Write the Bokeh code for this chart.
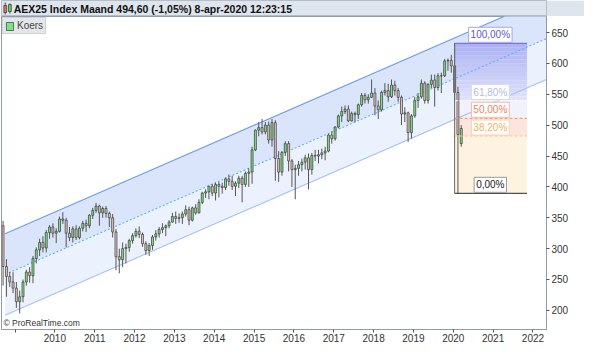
import numpy as np
from bokeh.plotting import figure
from bokeh.models import Range1d, FixedTicker, Label, Legend, LegendItem, ColumnDataSource
from bokeh.layouts import column
from bokeh.embed import file_html
from bokeh.resources import INLINE

# ---------------- data (monthly AEX candles, Oct 2008 .. Apr 2020) ----------------
start_year = 2008
start_month = 10
bar_shift = 0.05   # ProRealTime draws the January bar slightly left of the year tick

opens = [337, 271, 255,
         246, 236, 214, 222, 246, 262, 256, 284, 298, 310, 301, 326,
         335, 325, 328, 348, 346, 325, 318, 332, 318, 333, 341, 337,
         354, 362, 369, 358, 365, 357, 350, 327, 287, 282, 300, 302,
         313, 321, 328, 323, 308, 297, 305, 319, 324, 331, 334, 337,
         343, 352, 349, 350, 356, 363, 346, 366, 358, 375, 390, 392,
         401, 390, 404, 401, 399, 413, 409, 401, 406, 414, 404, 422,
         424, 460, 492, 496, 489, 500, 476, 504, 446, 424, 456, 470,
         442, 428, 430, 436, 440, 447, 428, 451, 450, 452, 455, 458,
         484, 478, 497, 515, 522, 526, 507, 519, 517, 533, 548, 541,
         545, 552, 531, 525, 553, 556, 546, 565, 556, 545, 518, 520,
         488, 515, 540, 546, 568, 540, 566, 573, 561, 580, 580, 604,
         605, 596, 553, 470]
highs = [345, 283, 262,
         262, 246, 232, 250, 266, 270, 288, 302, 316, 320, 330, 338,
         341, 333, 352, 359, 350, 335, 336, 338, 336, 345, 347, 356,
         366, 374, 371, 368, 369, 360, 356, 332, 300, 310, 308, 316,
         325, 333, 336, 326, 312, 309, 322, 330, 335, 341, 339, 346,
         358, 360, 357, 360, 370, 368, 368, 372, 380, 392, 396, 402,
         405, 407, 408, 407, 415, 420, 418, 409, 418, 418, 425, 430,
         465, 493, 505, 510, 505, 506, 510, 508, 458, 458, 474, 474,
         445, 436, 442, 446, 452, 454, 455, 460, 460, 462, 465, 486,
         490, 498, 517, 530, 532, 532, 522, 522, 535, 552, 552, 550,
         574, 560, 540, 556, 568, 567, 574, 572, 560, 548, 529, 522,
         518, 546, 552, 574, 571, 568, 582, 582, 584, 585, 607, 608,
         614, 632.6, 562, 500]
lows = [240, 222, 238,
        228, 204, 195, 213, 240, 245, 244, 276, 288, 294, 294, 316,
        318, 309, 326, 340, 302, 312, 310, 314, 315, 328, 327, 333,
        348, 358, 337, 350, 350, 335, 318, 265, 260, 270, 276, 295,
        308, 318, 317, 303, 290, 288, 298, 313, 318, 325, 320, 333,
        342, 340, 342, 340, 352, 338, 344, 355, 357, 372, 382, 380,
        385, 378, 383, 389, 395, 402, 395, 385, 398, 375, 400, 400,
        405, 458, 482, 485, 485, 470, 465, 410, 408, 418, 450, 425,
        400, 380, 418, 425, 428, 396, 420, 442, 438, 445, 443, 456,
        470, 475, 495, 505, 518, 505, 506, 505, 510, 530, 535, 535,
        544, 516, 510, 522, 548, 538, 544, 548, 538, 500, 505, 473,
        478, 512, 528, 543, 535, 535, 560, 530, 556, 552, 578, 588,
        585, 538, 389.6, 465]
closes = [271, 255, 246,
          236, 214, 222, 246, 262, 256, 284, 298, 310, 301, 326, 335,
          325, 328, 348, 346, 325, 318, 332, 318, 333, 341, 337, 354,
          362, 369, 358, 365, 357, 350, 327, 287, 282, 300, 302, 313,
          321, 328, 323, 308, 297, 305, 319, 324, 331, 334, 337, 343,
          352, 349, 350, 356, 363, 346, 366, 358, 375, 390, 392, 401,
          390, 404, 401, 399, 413, 409, 401, 406, 414, 404, 422, 424,
          460, 492, 496, 489, 500, 476, 504, 446, 424, 456, 470, 442,
          428, 430, 436, 440, 447, 428, 451, 450, 452, 455, 458, 484,
          478, 497, 515, 522, 526, 507, 519, 517, 533, 548, 541, 545,
          552, 531, 525, 553, 556, 546, 565, 556, 545, 518, 520, 488,
          515, 540, 546, 568, 540, 566, 573, 561, 580, 580, 604, 605,
          596, 553, 485, 494.6]

# regression channel
chan_t = [2008.75, 2022.34]
chan_mid = [258.2, 640.1]
chan_half = 66.0

# Fibonacci retracement drawn from the Feb-2020 high to the Mar-2020 low
fib_high = 632.6
fib_low = 389.6
fib_ratios = [1.0, 0.618, 0.5, 0.382, 0.0]
fib_texts = ["100,00%", "61,80%", "50,00%", "38,20%", "0,00%"]
fib_t0 = 2020 + 1 / 12 - bar_shift
fib_t1 = 2021.85
fib_label_t = 2020.93

last_price = 494.6
last_text = "494,60"
title_text = "AEX25 Index Maand 494,60 (-1,05%) 8-apr-2020 12:23:15"
year_ticks = list(range(2009, 2023))
price_ticks = list(range(200, 651, 50))

X0, X1 = 2008.66, 2022.34
Y0, Y1 = 169, 676
FONT = "Liberation Sans"

# ---------------- derived ----------------
n = len(closes)
t = np.array([start_year + (start_month - 1 + i) / 12 - bar_shift for i in range(n)])
o = np.array(opens, float)
h = np.array(highs, float)
l = np.array(lows, float)
c = np.array(closes, float)
up = c >= o

# ---------------- title bar ----------------
pt = figure(width=584, height=16, x_range=Range1d(0, 584), y_range=Range1d(0, 16),
            x_axis_type=None, y_axis_type=None, toolbar_location=None,
            output_backend="svg", min_border=0)
pt.grid.visible = False
pt.background_fill_color = "#dfe5ec"
pt.border_fill_color = "#dfe5ec"
pt.outline_line_color = "#b4bec8"
pt.segment(x0=[4, 9], y0=[2, 3], x1=[4, 9], y1=[14, 13], line_color="#444444", line_width=1)
pt.quad(left=[2.5, 7.5], right=[5.5, 10.5], bottom=[4, 5], top=[11, 12],
        fill_color=["#e07070", "#60d060"], line_color="#444444", line_width=0.8)
pt.add_layout(Label(x=13, y=8, text=title_text, text_baseline="middle",
                    text_font=FONT, text_font_style="bold",
                    text_font_size="10.5px", text_color="#111111"))

# ---------------- main chart ----------------
p = figure(width=584, height=328, x_range=Range1d(X0, X1), y_range=Range1d(Y0, Y1),
           y_axis_location="right", toolbar_location=None, output_backend="svg",
           min_border_left=1, min_border_top=0, min_border_right=38, min_border_bottom=13)
p.grid.visible = False
p.background_fill_color = "white"
p.border_fill_color = "white"
p.outline_line_color = "#8e9bab"

# regression channel
mid = np.array(chan_mid)
p.varea(x=chan_t, y1=mid, y2=mid + chan_half, fill_color="#dae5fb")
p.varea(x=chan_t, y1=mid - chan_half, y2=mid, fill_color="#ecf2fd")

# fib zones
levels = [fib_low + r * (fib_high - fib_low) for r in fib_ratios]
nb = 14
edges = np.linspace(levels[0], levels[1], nb + 1)
ctop = np.array([166, 171, 243])
cbot = np.array([224, 225, 250])
cols = []
for k in range(nb):
    f = (k + 0.5) / nb
    cc = (ctop * (1 - f) + cbot * f).astype(int)
    cols.append("#%02x%02x%02x" % tuple(cc))
p.quad(left=fib_t0, right=fib_t1, top=edges[:-1], bottom=edges[1:], fill_color=cols,
       line_color=None, fill_alpha=0.9)
p.quad(left=[fib_t0] * 3, right=[fib_t1] * 3, top=levels[1:4], bottom=levels[2:5],
       fill_color=["#f1f1fc", "#fde2da", "#fef2de"], line_color=None, fill_alpha=0.92)

# channel lines
p.line(chan_t, mid + chan_half, line_color="#6d9bef", line_width=1.1)
p.line(chan_t, mid, line_color="#5ab4f0", line_width=1.1, line_dash="2 2")
p.line(chan_t, mid - chan_half, line_color="#a6c2f5", line_width=1.1)

# candles
w = 0.6 / 12
p.segment(x0=t, y0=h, x1=t, y1=l, line_color="#555555", line_width=1)
src_up = ColumnDataSource(dict(x=t[up], top=c[up], bottom=o[up]))
src_dn = ColumnDataSource(dict(x=t[~up], top=o[~up], bottom=c[~up]))
r_up = p.vbar(x="x", width=w, top="top", bottom="bottom", source=src_up,
              fill_color="#7ee27e", line_color="#3a3a3a", line_width=0.7)
r_dn = p.vbar(x="x", width=w, top="top", bottom="bottom", source=src_dn,
              fill_color="#e5c3bf", line_color="#3a3a3a", line_width=0.7)

# fib lines (order: 100 %, 61.8 %, 50 %, 38.2 %, 0 %)
line_styles = [("#7474e2", "solid"), ("#fbfbff", "3 2"), ("#f2a088", "3 2"),
               ("#f4c68c", "3 2"), ("#505050", "solid")]
for lv, (lc, ld) in zip(levels, line_styles):
    p.segment(x0=[fib_t0], y0=[lv], x1=[fib_t1], y1=[lv], line_color=lc,
              line_width=1.2, line_dash=ld)
p.segment(x0=[fib_t0], y0=[fib_high], x1=[fib_t0], y1=[fib_low], line_color="#6a6a6a", line_width=1)

label_styles = [("#5858d8", "#a8a8ea"), ("#b4bce8", "#d4d8f2"), ("#ee8060", "#f4b8a6"),
                ("#eeb060", "#f4d6ac"), ("#222222", "#9a9a9a")]
for lv, txt, (tc, bc) in zip(levels, fib_texts, label_styles):
    p.add_layout(Label(x=fib_label_t, y=lv, text=txt, text_align="center",
                       text_baseline="bottom", y_offset=1, text_font=FONT,
                       text_font_size="10px", text_color=tc,
                       background_fill_color="white", border_line_color=bc, padding=2))

# axes
yax = p.yaxis[0]
yax.ticker = FixedTicker(ticks=price_ticks)
yax.major_tick_in = 0
yax.major_tick_out = 3
yax.minor_tick_out = 0
yax.minor_tick_in = 0
yax.major_label_standoff = 2
yax.axis_line_color = "#8e9bab"
yax.major_tick_line_color = "#555555"
yax.major_label_text_font = FONT
yax.major_label_text_font_size = "10px"
yax.major_label_text_color = "#333333"

xax = p.xaxis[0]
xax.ticker = FixedTicker(ticks=year_ticks)
xax.major_label_overrides = {year_ticks[0]: ""}
xax.major_tick_in = 0
xax.major_tick_out = 3
xax.minor_tick_out = 0
xax.minor_tick_in = 0
xax.major_label_standoff = 1
xax.axis_line_color = "#8e9bab"
xax.major_tick_line_color = "#555555"
xax.major_label_text_font = FONT
xax.major_label_text_font_size = "10px"
xax.major_label_text_color = "#333333"

# last price tag on the right axis
p.add_layout(Label(x=X1, y=last_price, x_offset=3, text=last_text, text_baseline="middle",
                   text_align="left", text_font=FONT, text_font_size="10px",
                   text_color="#111111", background_fill_color="#f6d000",
                   border_line_color="#777777", padding=1))

# watermark
p.add_layout(Label(x=X0, y=Y0, x_offset=2, y_offset=2, text="\u00a9 ProRealTime.com",
                   text_font=FONT, text_font_size="8.5px", text_color="#333333"))

# legend
legend = Legend(items=[LegendItem(label="Koers", renderers=[r_up])], location="top_left",
                margin=1, padding=2, spacing=0, glyph_width=9, glyph_height=10,
                label_standoff=3, label_text_font=FONT, label_text_font_size="10px",
                label_height=10, background_fill_color="#e4e7ea", background_fill_alpha=1,
                border_line_color="#b8bec4")
p.add_layout(legend)

layout = column(pt, p, spacing=0)
open("out.html", "w").write(file_html(layout, INLINE))
